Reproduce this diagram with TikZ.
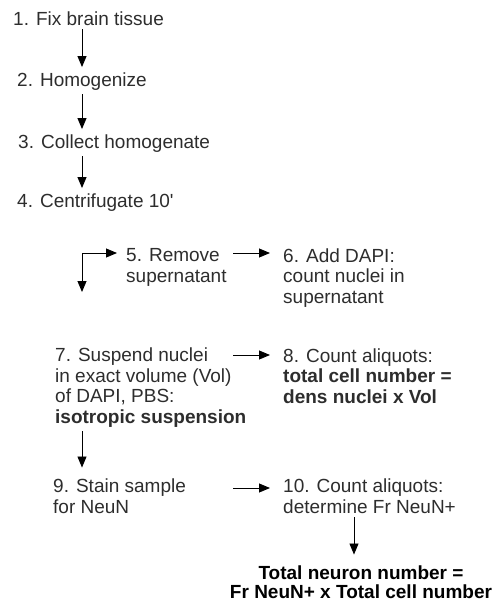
\documentclass[tikz,border=0pt]{standalone}
\usepackage{fontspec}
\setmainfont{Liberation Sans}
\usetikzlibrary{arrows.meta, calc}
\definecolor{txtgray}{RGB}{45,45,45}

\tikzset{
  stepnode/.style={anchor=base west, inner sep=0pt, align=left, text=txtgray,
    font=\fontsize{19}{20.5}\selectfont},
  flow/.style={->, line width=0.9pt, shorten <=4pt, shorten >=5pt},
  side/.style={->, line width=0.9pt, shorten >=13pt},
}

\begin{document}
\begin{tikzpicture}[x=1pt, y=-1pt, >={Triangle[length=11pt,width=9pt]}]
  \useasboundingbox (0,0) rectangle (493,603);

  % Columns of the vertical arrows
  \coordinate (colA) at (82,0);
  \coordinate (colC) at (354,0);

  % Steps 1--4
  \node[stepnode] (s1) at (13,25) {1. Fix brain tissue};
  \node[stepnode] (s2) at (17,86) {2. Homogenize};
  \node[stepnode] (s3) at (18,148) {3. Collect homogenate};
  \node[stepnode] (s4) at (17,207) {4. Centrifugate 10\textquotesingle};

  \draw[flow] (s1.south -| colA) -- (s2.north -| colA);
  \draw[flow] (s2.south -| colA) -- (s3.north -| colA);
  \draw[flow] (s3.south -| colA) -- (s4.north -| colA);

  % Steps 5 and 6 (base = last line)
  \node[stepnode] (s5) at (126,282) {5. Remove\\supernatant};
  \node[stepnode] (s6) at (283,303) {6. Add DAPI:\\count nuclei in\\supernatant};

  % Split after centrifugation
  \coordinate (bend) at (82,253);
  \coordinate (drop) at (82,292);
  \draw[flow, <->, shorten <=0pt, shorten >=9pt] (drop) -- (bend) -- (bend -| s5.west);

  \coordinate (t56) at (233,253);
  \draw[side] (t56) -- (t56 -| s6.west);

  % Steps 7 and 8
  \node[stepnode] (s7) at (55,423) {7. Suspend nuclei\\in exact volume (Vol)\\of DAPI, PBS:\\\textbf{isotropic suspension}};
  \node[stepnode] (s8) at (283,403) {8. Count aliquots:\\\textbf{total cell number =}\\\textbf{dens nuclei x Vol}};

  \coordinate (t78) at (233,355);
  \draw[side] (t78) -- (t78 -| s8.west);

  % Steps 9 and 10
  \node[stepnode] (s9) at (53,513) {9. Stain sample\\for NeuN};
  \node[stepnode] (s10) at (283,513) {10. Count aliquots:\\determine Fr NeuN+};

  \draw[flow, shorten >=11pt] (s7.south -| colA) -- (s9.north -| colA);

  \coordinate (t910) at (233,488);
  \draw[side] (t910) -- (t910 -| s10.west);

  % Result
  \node[stepnode, anchor=base, align=center, text=black,
    font=\bfseries\fontsize{19}{18.5}\selectfont] (total) at (361,598)
    {Total neuron number =\\Fr NeuN+ x Total cell number};
  \draw[flow, shorten >=11pt] (s10.south -| colC) -- (total.north -| colC);
\end{tikzpicture}
\end{document}
